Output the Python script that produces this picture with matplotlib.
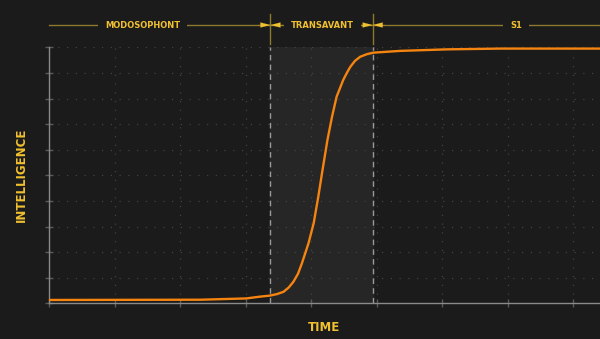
import matplotlib.pyplot as plt
import matplotlib.transforms as mtransforms

# curve (time units, intelligence units)
t = [0.0, 2.31, 3.01, 3.22, 3.37, 3.48, 3.58, 3.66, 3.73, 3.80, 3.86, 3.96,
     4.04, 4.11, 4.18, 4.25, 4.32, 4.39, 4.49, 4.55, 4.60, 4.67, 4.75, 4.85,
     4.95, 5.36, 6.08, 6.89, 8.41]
iq = [0.13, 0.14, 0.19, 0.26, 0.30, 0.36, 0.45, 0.62, 0.84, 1.15, 1.56, 2.34,
      3.13, 4.16, 5.29, 6.38, 7.29, 8.07, 8.72, 9.02, 9.24, 9.47, 9.63, 9.73,
      9.79, 9.86, 9.92, 9.95, 9.95]

# phase boundaries and labels
bordas = [3.38, 4.94]
fases = ['MODOSOPHONT', 'TRANSAVANT', 'S1']
pos_fases = [1.43, 4.18, 7.13]

fundo = '#1b1b1b'
ouro = '#f0c030'
ouro_escuro = '#8c7a2e'
cinza = '#8a8a8a'

fig = plt.figure(figsize=(6, 3.39), dpi=100, facecolor=fundo)
ax = fig.add_axes([49/600, 35.7/339, 1 - 49/600, 256/339])
ax.set_facecolor(fundo)

ax.set_xlim(0, 8.41)
ax.set_ylim(0, 10)

# zona transavant
ax.axvspan(bordas[0], bordas[1], color='#262626', zorder=0)
for b in bordas:
    ax.axvline(b, color='#9a9a9a', lw=1, ls=(0, (4, 3)), zorder=2)

ax.plot(t, iq, color='#f58410', lw=1.7, zorder=3, solid_joinstyle='round')

# grelha pontilhada
ax.set_xticks(range(0, 9))
ax.set_yticks(range(0, 11))
ax.grid(True, color='#424242', lw=0.9, ls=(0, (1, 6)))
ax.tick_params(direction='inout', length=6, width=1, color='#5a5a5a',
               labelbottom=False, labelleft=False)
for s in ['top', 'right']:
    ax.spines[s].set_visible(False)
for s in ['left', 'bottom']:
    ax.spines[s].set_color(cinza)
    ax.spines[s].set_linewidth(1)

ax.set_xlabel('TIME', color=ouro, fontsize=8.5, fontweight='bold', labelpad=10)
ax.set_ylabel('INTELLIGENCE', color=ouro, fontsize=8.5, fontweight='bold', labelpad=12)

# anotacoes das fases por cima do grafico
trans = mtransforms.blended_transform_factory(ax.transData, fig.transFigure)
ytop = (339 - 25) / 339
ax.plot([0, 8.41], [ytop, ytop], color=ouro_escuro, lw=1, transform=trans,
        clip_on=False)
for b in bordas:
    ax.plot([b, b], [(339 - 14) / 339, (339 - 44) / 339], color=ouro_escuro,
            lw=1, transform=trans, clip_on=False)
    for lado in [-1, 1]:
        ax.annotate('', xy=(b, ytop), xytext=(b + lado * 0.19, ytop),
                    xycoords=trans, textcoords=trans,
                    arrowprops=dict(arrowstyle='-|>,head_length=0.7,head_width=0.18',
                                    color=ouro, lw=0.1, shrinkA=0, shrinkB=0),
                    annotation_clip=False)
for nome, x in zip(fases, pos_fases):
    ax.text(x, ytop, nome, transform=trans, color=ouro, fontsize=6,
            fontweight='bold', ha='center', va='center',
            bbox=dict(facecolor=fundo, edgecolor='none', pad=5))

plt.savefig('out.png', dpi=100, facecolor=fundo)
